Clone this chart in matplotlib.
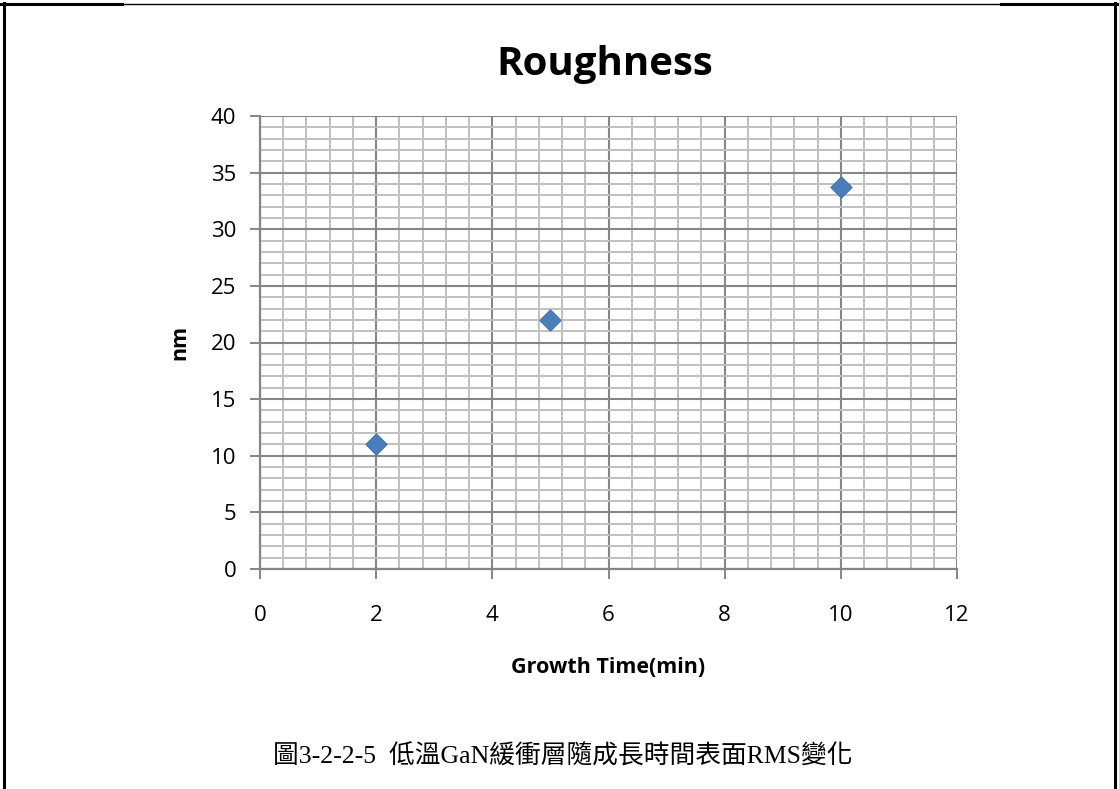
import matplotlib
matplotlib.use('Agg')
import matplotlib.pyplot as plt
from matplotlib.lines import Line2D
from matplotlib.ticker import MultipleLocator

# Growth time (min) vs. surface RMS roughness (nm)
growth_time = [2, 5, 10]
rms_nm = [11.0, 22.0, 33.7]

x_ticks = [0, 2, 4, 6, 8, 10, 12]
y_ticks = [0, 5, 10, 15, 20, 25, 30, 35, 40]

title = 'Roughness'
x_label = 'Growth Time(min)'
y_label = 'nm'
caption = '圖3-2-2-5  低溫GaN緩衝層隨成長時間表面RMS變化'

W, H = 1119, 789
fig = plt.figure(figsize=(W / 100, H / 100), dpi=100)
fig.patch.set_facecolor('white')

# Plot area
ax = fig.add_axes([260 / W, 1 - 569 / H, 697 / W, 453 / H])
ax.set_xlim(0, 12)
ax.set_ylim(0, 40)

major_col = '#868686'
minor_col = '#c0c0c0'

ax.xaxis.set_major_locator(MultipleLocator(2))
ax.xaxis.set_minor_locator(MultipleLocator(0.4))
ax.yaxis.set_major_locator(MultipleLocator(5))
ax.yaxis.set_minor_locator(MultipleLocator(1))
ax.set_xticks(x_ticks)
ax.set_yticks(y_ticks)

ax.grid(which='minor', color=minor_col, linewidth=1.4, zorder=0)
ax.grid(which='major', color=major_col, linewidth=1.5, zorder=1)
ax.set_axisbelow(True)

for side in ['top', 'right']:
    ax.spines[side].set_visible(False)
for side in ['left', 'bottom']:
    ax.spines[side].set_color(major_col)
    ax.spines[side].set_linewidth(1.6)

ax.tick_params(which='minor', length=0)
ax.tick_params(axis='y', which='major', length=7, width=1.4, color=major_col,
               pad=10, labelsize=16)
ax.tick_params(axis='x', which='major', length=7, width=1.4, color=major_col,
               pad=19, labelsize=16)
for lab in ax.get_xticklabels() + ax.get_yticklabels():
    lab.set_fontfamily('Open Sans')

ax.scatter(growth_time, rms_nm, marker='D', s=120, color='#4a7ebb',
           edgecolors='#3d6ea8', linewidths=0.6, zorder=5, clip_on=False)

ax.set_xlabel(x_label, fontfamily='Open Sans', fontweight='bold', fontsize=15.5,
              labelpad=22)
ax.set_ylabel(y_label, fontfamily='Open Sans', fontweight='bold', fontsize=15.5,
              labelpad=15)

fig.text(605 / W, 1 - 64 / H, title, ha='center', va='center',
         fontfamily='Open Sans', fontweight='bold', fontsize=29)

fig.text(273 / W, 1 - 757 / H, caption, ha='left', va='center',
         family=['Liberation Serif', 'Noto Sans CJK TC'], fontsize=18.5)

# Page frame around the chart
def fx(px):
    return px / W

def fy(py):
    return 1 - py / H

fig.add_artist(Line2D([fx(0), fx(122)], [fy(4), fy(4)], color='black', lw=2.2))
fig.add_artist(Line2D([fx(122), fx(1001)], [fy(3.6), fy(3.6)], color='black', lw=1.0))
fig.add_artist(Line2D([fx(1001), fx(1117)], [fy(4), fy(4)], color='black', lw=2.2))
fig.add_artist(Line2D([fx(4), fx(4)], [fy(3), fy(789)], color='black', lw=2.2))
fig.add_artist(Line2D([fx(1115), fx(1115)], [fy(3), fy(789)], color='black', lw=2.2))

fig.savefig('out.png', dpi=100, facecolor='white')
